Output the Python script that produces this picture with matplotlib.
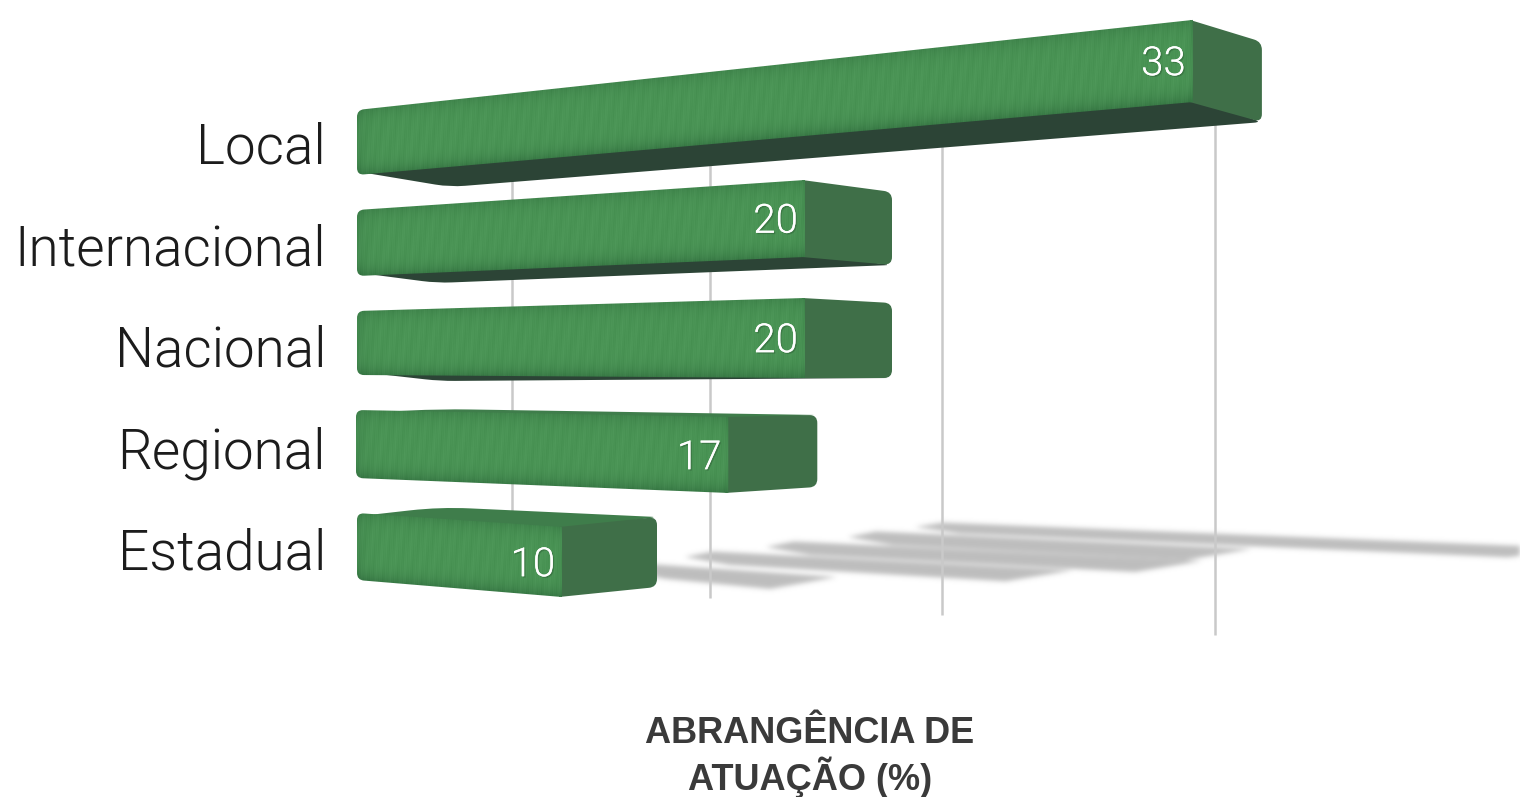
import numpy as np
import matplotlib
matplotlib.use("Agg")
import matplotlib.pyplot as plt
import matplotlib.patheffects as pe
from matplotlib.patches import PathPatch, Polygon
from matplotlib.path import Path

categories = ["Local", "Internacional", "Nacional", "Regional", "Estadual"]
values = [33, 20, 20, 17, 10]
grid_values = [0, 10, 20, 30]
axis_title = "ABRANGÊNCIA DE\nATUAÇÃO (%)"

# perspective of each row, in pixels: left edge, top and bottom y at value 0,
# px per unit, top and bottom slope per unit, end cap offsets, back left corner
row_view = [
    dict(x0=357, yt=110, yb=175, k=25.33, st=-2.73, sb=-2.21, dx=69, dyt=22, dyb=20, bottom=(450, 187), top=None),
    dict(x0=357, yt=210, yb=276, k=22.4, st=-1.5, sb=-0.95, dx=87, dyt=12, dyb=8, bottom=(437, 283), top=None),
    dict(x0=357, yt=311, yb=375, k=22.4, st=-0.65, sb=0.15, dx=87, dyt=5, dyb=0, bottom=(440, 381), top=None),
    dict(x0=356, yt=410, yb=478, k=21.9, st=0.41, sb=0.88, dx=89, dyt=-2, dyb=-6, bottom=None, top=(440, 409)),
    dict(x0=357, yt=513, yb=580, k=20.5, st=1.4, sb=1.7, dx=95, dyt=-10, dyb=-10, bottom=None, top=(440, 507)),
]
label_y = [148, 250, 351, 453, 554]

# floor shadows: left tip, px per unit, y slope per unit, thickness
shadow_view = [
    dict(x=915, y=527, k=20.0, s=0.7, h=0.8),
    dict(x=848, y=537, k=20.2, s=0.7, h=1.0),
    dict(x=766, y=547, k=21.8, s=0.8, h=1.0),
    dict(x=685, y=557, k=22.8, s=0.9, h=1.0),
    dict(x=620, y=570, k=21.7, s=0.9, h=1.1),
]

FRONT_MID = np.array([0x4a, 0x94, 0x55]) / 255
FRONT_EDGE = np.array([0x38, 0x78, 0x45]) / 255
CAP = "#3f6f48"
UNDER = "#2c4436"
TOPSIDE = "#3f7d4b"
GRID = "#c9c9c9"
LABEL_FONT = ["Roboto", "DejaVu Sans"]
W, H = 1520, 797


def grid_x(v):
    return (512 + 14.8 * v) / (1 - 0.0071 * v)


def grid_bottom(v):
    return (583 - 2.77 * v) / (1 - 0.0071 * v)


def rounded(pts, radii):
    """Closed path through pts, each corner rounded by its own radius."""
    pts = [np.array(p, float) for p in pts]
    verts, codes = [], []
    n = len(pts)
    for i, (p, r) in enumerate(zip(pts, radii)):
        prev, nxt = pts[i - 1], pts[(i + 1) % n]
        d1, d2 = prev - p, nxt - p
        a = p + d1 / np.hypot(*d1) * min(r, np.hypot(*d1) / 2)
        b = p + d2 / np.hypot(*d2) * min(r, np.hypot(*d2) / 2)
        verts += [a, p, b]
        codes += [Path.MOVETO if i == 0 else Path.LINETO, Path.CURVE3, Path.CURVE3]
    verts.append(verts[0])
    codes.append(Path.CLOSEPOLY)
    return Path(np.array(verts), codes)


def draw_front(ax, g, v, A, B, C, D):
    x0, x1 = int(min(A[0], B[0])) - 2, int(C[0]) + 3
    y0, y1 = int(min(A[1], C[1])) - 2, int(max(B[1], D[1])) + 3
    xx, yy = np.meshgrid(np.arange(x0, x1), np.arange(y0, y1))
    top = g["yt"] + g["st"] * (xx - g["x0"]) / g["k"]
    bot = g["yb"] + g["sb"] * (xx - g["x0"]) / g["k"]
    t = np.clip((yy - top) / (bot - top), 0, 1)
    # darker towards the rounded edges, with faint mottled streaks
    edge = np.where(t > 0.5, (2 * t - 1) ** 4, 0.5 * (1 - 2 * t) ** 4)
    edge = edge + 0.5 * np.exp(-(xx - x0) / 8.0) + 0.5 * np.exp(-(x1 - xx) / 4.0)
    edge = np.clip(edge, 0, 1)[..., None]
    streak = 0.006 * (np.sin(xx * 1.3 + yy * 0.05) + np.sin(xx * 0.47 + yy * 0.11)
                      + np.sin(xx * 2.9 - yy * 0.17))[..., None]
    img = np.clip(FRONT_MID * (1 - edge) + FRONT_EDGE * edge + streak, 0, 1)
    im = ax.imshow(img, extent=(x0, x1, y1, y0), origin="upper", aspect="auto", zorder=5)
    clip = PathPatch(rounded([A, C, D, B], [7, 0, 0, 7]), fc="none", ec="none", transform=ax.transData)
    ax.add_patch(clip)
    im.set_clip_path(clip)


def shadow_layer():
    """Draw the shadow bands off screen, blur them, return an alpha array."""
    tmp = plt.figure(figsize=(W / 100, H / 100), dpi=100)
    tax = tmp.add_axes([0, 0, 1, 1])
    for s, v in zip(shadow_view, values):
        xr, yr = s["x"] + s["k"] * v, s["y"] + s["s"] * v
        pts = [(s["x"], s["y"]), (s["x"] + 28, s["y"] - 5.5 * s["h"]), (xr, yr - 2),
               (xr - 67, yr + 9 * s["h"]), (s["x"] + 45, s["y"] + 8 * s["h"])]
        tax.add_patch(Polygon(pts, closed=True, fc="k", ec="none"))
    tax.set_xlim(0, W)
    tax.set_ylim(H, 0)
    tax.axis("off")
    tmp.canvas.draw()
    mask = 1 - np.asarray(tmp.canvas.buffer_rgba())[..., 0] / 255.0
    plt.close(tmp)
    kernel = np.exp(-np.arange(-9, 10) ** 2 / (2 * 2.5 ** 2))
    kernel /= kernel.sum()
    for axis in (0, 1):
        mask = np.apply_along_axis(lambda m: np.convolve(m, kernel, mode="same"), axis, mask)
    return mask


fig = plt.figure(figsize=(W / 100, H / 100), dpi=100)
ax = fig.add_axes([0, 0, 1, 1])

layer = np.ones((H, W, 4)) * np.array([0.62, 0.62, 0.62, 0.0])
layer[..., 3] = shadow_layer() * 0.68
ax.imshow(layer, extent=(0, W, H, 0), origin="upper", aspect="auto", zorder=1)

for v in grid_values:
    ax.plot([grid_x(v)] * 2, [100, grid_bottom(v)], color=GRID, lw=1.8, zorder=2, solid_capstyle="butt")

for name, v, g, ly in zip(categories, values, row_view, label_y):
    xe = g["x0"] + g["k"] * v
    A = (g["x0"], g["yt"])
    B = (g["x0"], g["yb"])
    C = (xe, g["yt"] + g["st"] * v)
    D = (xe, g["yb"] + g["sb"] * v)
    E = (xe + g["dx"], C[1] + g["dyt"])
    F = (xe + g["dx"], D[1] + g["dyb"])

    # side faces reach a little under the front so no gap shows at the seams
    if g["bottom"]:
        pts = [(B[0] + 3, B[1] - 3), (D[0], D[1] - 3), F, g["bottom"]]
        ax.add_patch(PathPatch(rounded(pts, [0, 0, 8, 15]), fc=UNDER, ec="none", zorder=4))
    if g["top"]:
        pts = [(A[0] + 3, A[1] + 3), (C[0], C[1] + 3), E, g["top"]]
        ax.add_patch(PathPatch(rounded(pts, [0, 0, 6, 30]), fc=TOPSIDE, ec="none", zorder=4))
    pts = [(C[0] - 3, C[1]), E, F, (D[0] - 3, D[1])]
    ax.add_patch(PathPatch(rounded(pts, [0, 8, 8, 0]), fc=CAP, ec="none", zorder=4))
    draw_front(ax, g, v, A, B, C, D)

    ax.text(xe - 7, (C[1] + D[1]) / 2 + 3, str(v), color="white", fontsize=29, fontweight=300,
            family=LABEL_FONT, ha="right", va="center", zorder=7,
            path_effects=[pe.withSimplePatchShadow(offset=(1, -1), shadow_rgbFace="#1d3d24", alpha=0.3), pe.Normal()])
    ax.text(326, ly, name, color="#1c1c1c", fontsize=39.5, fontweight=300, family=LABEL_FONT,
            ha="right", va="center", zorder=7)

ax.text(810, 757, axis_title, color="#3a3a3a", fontsize=26, fontweight="bold",
        family=["Liberation Sans", "DejaVu Sans"], ha="center", va="center", linespacing=1.17)

ax.set_xlim(0, W)
ax.set_ylim(H, 0)
ax.axis("off")
fig.savefig("out.png", dpi=100)
